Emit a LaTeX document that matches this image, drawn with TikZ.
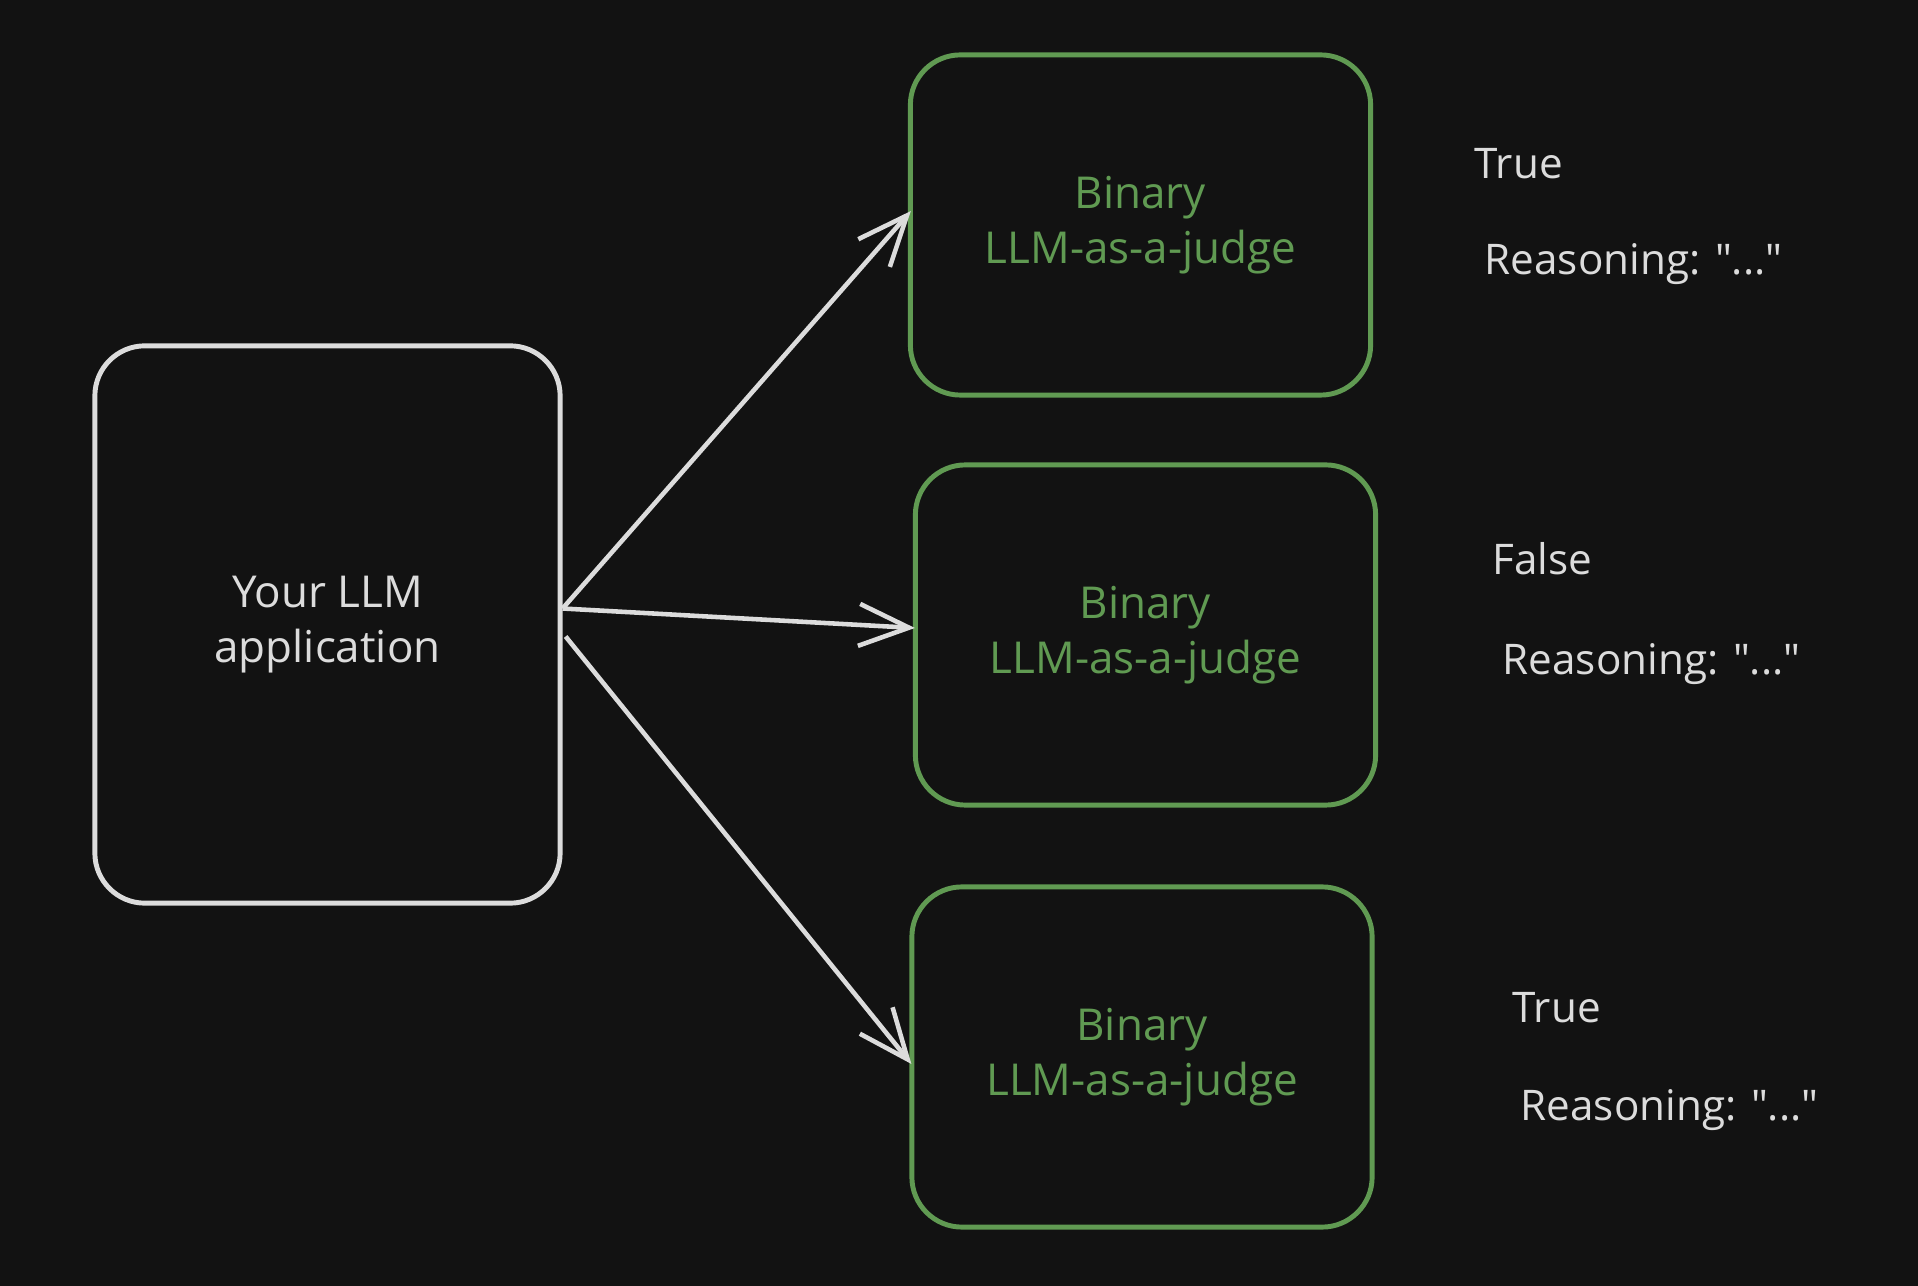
\documentclass[tikz,border=0pt]{standalone}
\usepackage{fontspec}
\setmainfont{Open Sans}[Ligatures=TeXOff]
\usetikzlibrary{arrows.meta,calc}
\definecolor{bgc}{HTML}{121212}
\definecolor{ink}{HTML}{DCDCDC}
\definecolor{grn}{HTML}{609A52}
\tikzset{
  sketchbox/.style={draw, line width=1.4pt, rounded corners=0.5cm, inner sep=0pt, align=center,
     font=\fontsize{12.5}{15.5}\selectfont},
  appbox/.style={sketchbox, draw=ink, text=ink, minimum width=4.65cm, minimum height=5.57cm},
  judgebox/.style={sketchbox, draw=grn, text=grn, minimum width=4.6cm, minimum height=3.4cm},
  outlabel/.style={text=ink, anchor=base west, inner sep=0pt, font=\fontsize{12}{14}\selectfont},
  conn/.style={draw=ink, line width=1.3pt, -{Straight Barb[length=0.5cm, width=0.42cm, line width=1.3pt]}}
}
\begin{document}
\begin{tikzpicture}[x=0.01cm, y=-0.01cm]
\fill[bgc] (0,0) rectangle (1918,1286);
\useasboundingbox (0,0) rectangle (1918,1286);

\node[appbox] (app) at (327.5,624.5) {Your LLM\\application};
\node[judgebox] (j1) at (1140.5,225) {Binary\\LLM-as-a-judge};
\node[judgebox] (j2) at (1145.5,635) {Binary\\LLM-as-a-judge};
\node[judgebox] (j3) at (1142,1057) {Binary\\LLM-as-a-judge};

\coordinate (s1) at ($(app.east)+(0,-16)$);
\coordinate (s3) at ($(app.east)+(3,12)$);
\coordinate (e1) at ($(j1.west)+(3,-14)$);
\coordinate (e2) at ($(j2.west)+(2,-7)$);
\coordinate (e3) at ($(j3.west)+(2,7)$);

\draw[conn] (s1) -- (e1);
\draw[conn] (s1) -- (e2);
\draw[conn] (s3) -- (e3);

\node[outlabel] (t1) at (1474,179) {True};
\node[outlabel] (r1) at (1484,275) {Reasoning: "..."};
\node[outlabel] (t2) at (1492,575) {False};
\node[outlabel] (r2) at (1502,675) {Reasoning: "..."};
\node[outlabel] (t3) at (1512,1023) {True};
\node[outlabel] (r3) at (1520,1120) {Reasoning: "..."};
\end{tikzpicture}
\end{document}
